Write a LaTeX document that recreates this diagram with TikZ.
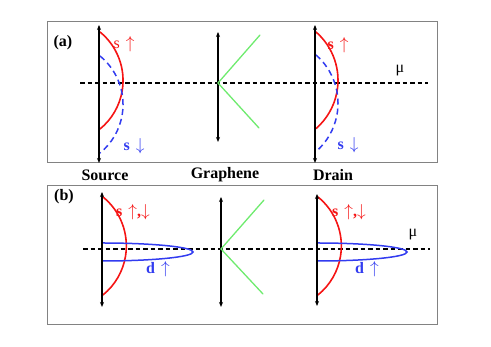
\documentclass[tikz,border=0pt]{standalone}
\usepackage{fontspec}
\setmainfont{Liberation Serif}
\usetikzlibrary{arrows.meta}
\definecolor{spinred}{RGB}{245,20,20}
\definecolor{spinblue}{RGB}{50,60,240}
\definecolor{diracgreen}{RGB}{110,235,110}
\definecolor{framegray}{RGB}{130,130,130}
\newcommand{\spinup}{\ensuremath{\uparrow}}
\newcommand{\spindown}{\ensuremath{\downarrow}}
\newcommand{\gap}{\hspace{6pt}}
\begin{document}
\begin{tikzpicture}[x=1pt,y=1pt,line cap=round,>={Stealth[length=5pt,width=4pt]},
	axis/.style={<->,line width=1.6pt,black},
	level/.style={line width=1.3pt,dash pattern=on 4.5pt off 3pt,line cap=butt},
	dos/.style={line width=1.6pt,spinred},
	dosdown/.style={line width=1.5pt,spinblue,dash pattern=on 6pt off 4pt,line cap=butt},
	dband/.style={line width=1.5pt,spinblue},
	cone/.style={line width=1.3pt,diracgreen},
	lbl/.style={font=\fontsize{16}{18}\selectfont\bfseries,inner sep=0pt},
	frame/.style={draw=framegray,line width=1pt}]
	\useasboundingbox (0,0) rectangle (491,347);
	% panel (a)
	\draw[frame] (47,184) rectangle (437,325);
	\node[lbl] (panelA) at (63,304) {(a)};
	\draw[level] (80,264)--(428,264);
	\node[font=\fontsize{16}{18}\selectfont,inner sep=0pt] (muA) at (400,276) {μ};
	% source
	\draw[dos] (100,315) arc[start angle=50.8,end angle=-50.8,radius=62.6];
	\draw[dosdown] (100,291) arc[start angle=50.8,end angle=-50.8,radius=62.6];
	\draw[axis] (99,184)--(99,322);
	\node[lbl,font=\fontsize{16}{18}\selectfont,text=spinred] (sUpA) at (124,303) {s\gap\spinup};
	\node[lbl,text=spinblue] (sDownA) at (134,201) {s\gap\spindown};
	% graphene
	\draw[axis] (218,205)--(218,315);
	\draw[cone] (260,312)--(218,264)--(259,219);
	% drain
	\draw[dos] (316,315) arc[start angle=49,end angle=-49,radius=64];
	\draw[dosdown] (316,292) arc[start angle=49,end angle=-49,radius=64];
	\draw[axis] (315,184)--(315,322);
	\node[lbl,text=spinred] (sUpAd) at (338,302) {s\gap\spinup};
	\node[lbl,text=spinblue] (sDownAd) at (348,202) {s\gap\spindown};
	% contact names
	\node[lbl] (source) at (105,172) {Source};
	\node[lbl] (graphene) at (225,172) {Graphene};
	\node[lbl] (drain) at (333,172) {Drain};
	% panel (b)
	\draw[frame] (47,22) rectangle (437,161);
	\node[lbl] (panelB) at (64,150) {(b)};
	\draw[level] (83,98)--(430,98);
	\node[font=\fontsize{16}{18}\selectfont,inner sep=0pt] (muB) at (413,112) {μ};
	% source
	\draw[dos] (103,150) arc[start angle=51,end angle=-51,radius=63];
	\draw[dband] (102,104) arc[start angle=90,end angle=-90,x radius=91,y radius=9];
	\draw[axis] (102,40)--(102,155);
	\node[lbl,text=spinred] (sB) at (133,135) {s\gap\spinup,\spindown};
	\node[lbl,text=spinblue] (dB) at (158,78) {d\gap\spinup};
	% graphene
	\draw[axis] (221,40)--(221,150);
	\draw[cone] (264,147)--(221,98)--(263,53);
	% drain
	\draw[dos] (318,150) arc[start angle=51,end angle=-51,radius=63];
	\draw[dband] (317,104) arc[start angle=90,end angle=-90,x radius=90,y radius=9];
	\draw[axis] (317,41)--(317,153);
	\node[lbl,text=spinred] (sBd) at (349,135) {s\gap\spinup,\spindown};
	\node[lbl,text=spinblue] (dBd) at (367,78) {d\gap\spinup};
\end{tikzpicture}
\end{document}
